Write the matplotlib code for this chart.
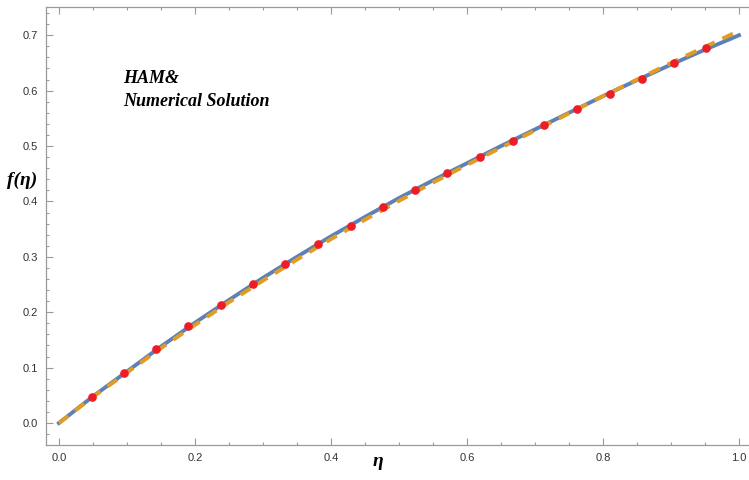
import matplotlib
matplotlib.use("Agg")
import matplotlib.pyplot as plt
from matplotlib.ticker import MultipleLocator

# blue solid curve (HAM)
eta_line = [0.0, 0.05, 0.10, 0.15, 0.20, 0.25, 0.30, 0.35, 0.40, 0.45, 0.50,
            0.55, 0.60, 0.65, 0.70, 0.75, 0.80, 0.85, 0.90, 0.95, 1.0]
f_ham = [0.0, 0.048, 0.093, 0.138, 0.181, 0.222, 0.262, 0.300, 0.337, 0.372, 0.406,
         0.438, 0.469, 0.500, 0.530, 0.560, 0.590, 0.619, 0.647, 0.674, 0.700]
# orange dashed curve (numerical)
f_num = [0.0, 0.047, 0.091, 0.135, 0.177, 0.218, 0.257, 0.295, 0.332, 0.367, 0.401,
         0.434, 0.466, 0.497, 0.528, 0.559, 0.590, 0.620, 0.650, 0.679, 0.708]
# red markers
eta_pts = [0.048, 0.095, 0.143, 0.190, 0.238, 0.286, 0.333, 0.381, 0.429, 0.476,
           0.524, 0.571, 0.619, 0.667, 0.714, 0.762, 0.810, 0.857, 0.905, 0.952]
f_pts = [0.047, 0.090, 0.134, 0.175, 0.213, 0.251, 0.287, 0.323, 0.356, 0.390,
         0.420, 0.451, 0.480, 0.509, 0.538, 0.567, 0.594, 0.621, 0.650, 0.677]

BLUE = "#5E81B5"
ORANGE = "#E19C24"
RED = "#EE1C25"
GRAY = "#9A9A9A"

fig = plt.figure(figsize=(7.49, 4.8), dpi=100)
# the frame runs just past the right edge of the picture
ax = fig.add_axes([46 / 749, 1 - 445 / 480, 712 / 749, 438 / 480])

ax.plot(eta_line, f_ham, color=BLUE, lw=2.8, zorder=2)
ax.plot(eta_line, f_num, color=ORANGE, lw=2.8, ls=(0, (3.0, 2.2)), zorder=3)
ax.plot(eta_pts, f_pts, "o", color=RED, ms=5.2, zorder=4)

ax.set_xlim(-0.019, 1.028)
ax.set_ylim(-0.0397, 0.751)

ax.xaxis.set_major_locator(MultipleLocator(0.2))
ax.xaxis.set_minor_locator(MultipleLocator(0.05))
ax.yaxis.set_major_locator(MultipleLocator(0.1))
ax.yaxis.set_minor_locator(MultipleLocator(0.02))
ax.xaxis.set_major_formatter(lambda v, p: f"{v:.1f}")
ax.yaxis.set_major_formatter(lambda v, p: f"{v:.1f}")

ax.tick_params(which="both", direction="in", top=True, right=True,
               color=GRAY, labelcolor="#333333", labelsize=8, width=0.8)
ax.tick_params(which="major", length=5, pad=6)
ax.tick_params(which="minor", length=2.5)
for lbl in ax.get_xticklabels() + ax.get_yticklabels():
    lbl.set_family(["Liberation Sans", "DejaVu Sans"])
for s in ax.spines.values():
    s.set_color(GRAY)
    s.set_linewidth(0.9)

serif = ["Liberation Serif", "DejaVu Serif"]
fig.text(378 / 749, 1 - 462 / 480, "η", family=serif, style="italic", weight="bold",
         fontsize=14, ha="center", va="center")
fig.text(22 / 749, 1 - 180 / 480, "f(η)", family=serif, style="italic", weight="bold",
         fontsize=14, ha="center", va="center")
fig.text(123 / 749, 1 - 90 / 480, "HAM&\nNumerical Solution", family=serif,
         style="italic", weight="bold", fontsize=13, ha="left", va="center",
         linespacing=1.45)

fig.savefig("out.png", dpi=100)
